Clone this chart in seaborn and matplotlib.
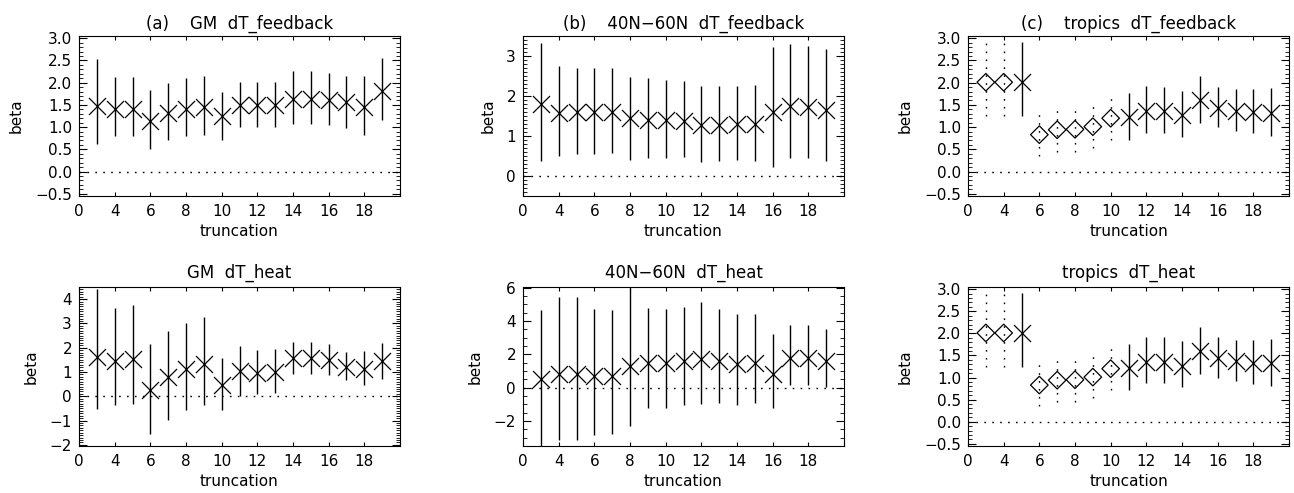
import matplotlib
matplotlib.use("Agg")
import matplotlib.pyplot as plt
import seaborn as sns
import pandas as pd
from matplotlib.ticker import MultipleLocator, FixedLocator, FixedFormatter, FuncFormatter

# ---------------- data ----------------
truncation = [3, 4, 5, 6, 7, 8, 9, 10, 11, 12, 13, 14, 15, 16, 17, 18, 19]
xtick_pos = [2, 4, 6, 8, 10, 12, 14, 16, 18, 20]
xtick_labels = ["0", "4", "6", "8", "10", "12", "14", "16", "18", ""]

gm_fb_beta = [1.48, 1.40, 1.41, 1.14, 1.31, 1.41, 1.45, 1.24, 1.50, 1.49, 1.49, 1.64, 1.64, 1.60, 1.56, 1.46, 1.82]
gm_fb_hi = [2.54, 2.12, 2.13, 1.83, 1.99, 2.10, 2.15, 1.78, 2.02, 2.02, 2.02, 2.26, 2.26, 2.21, 2.15, 2.15, 2.56]
gm_fb_lo = [0.63, 0.79, 0.79, 0.50, 0.70, 0.80, 0.83, 0.72, 1.01, 1.01, 1.01, 1.08, 1.08, 1.04, 0.99, 0.82, 1.16]

mid_fb_beta = [1.80, 1.58, 1.59, 1.61, 1.61, 1.44, 1.41, 1.40, 1.37, 1.27, 1.27, 1.29, 1.29, 1.61, 1.75, 1.72, 1.66]
mid_fb_hi = [3.32, 2.75, 2.70, 2.70, 2.69, 2.47, 2.44, 2.40, 2.37, 2.24, 2.25, 2.25, 2.27, 3.23, 3.31, 3.25, 3.17]
mid_fb_lo = [0.38, 0.49, 0.54, 0.56, 0.58, 0.41, 0.44, 0.44, 0.48, 0.34, 0.37, 0.39, 0.38, 0.22, 0.45, 0.45, 0.38]

trop_beta = [2.01, 2.01, 2.01, 0.83, 0.94, 0.95, 1.01, 1.20, 1.22, 1.36, 1.36, 1.27, 1.60, 1.44, 1.37, 1.34, 1.32]
trop_hi = [2.92, 2.92, 2.92, 1.35, 1.45, 1.46, 1.55, 1.73, 1.77, 1.92, 1.91, 1.82, 2.14, 1.91, 1.86, 1.85, 1.87]
trop_lo = [1.25, 1.25, 1.25, 0.35, 0.45, 0.45, 0.53, 0.71, 0.71, 0.87, 0.87, 0.78, 1.09, 1.00, 0.92, 0.86, 0.80]
trop_solid = [0, 0, 1, 0, 0, 0, 0, 0, 1, 1, 1, 1, 1, 1, 1, 1, 1]

gm_ht_beta = [1.60, 1.47, 1.53, 0.25, 0.78, 1.12, 1.31, 0.48, 1.03, 0.97, 0.98, 1.57, 1.57, 1.51, 1.22, 1.13, 1.46]
gm_ht_hi = [4.42, 3.65, 3.75, 2.14, 2.70, 3.01, 3.25, 1.57, 2.08, 1.90, 1.93, 2.23, 2.23, 2.16, 1.82, 1.85, 2.21]
gm_ht_lo = [-0.52, -0.37, -0.32, -1.57, -0.97, -0.57, -0.38, -0.57, 0.00, 0.08, 0.12, 0.91, 0.93, 0.88, 0.65, 0.48, 0.73]

mid_ht_beta = [0.55, 0.80, 0.80, 0.70, 0.70, 1.30, 1.50, 1.50, 1.60, 1.70, 1.60, 1.40, 1.50, 0.85, 1.80, 1.80, 1.60]
mid_ht_hi = [4.65, 5.45, 5.45, 4.75, 4.65, 6.00, 4.80, 4.75, 4.85, 5.15, 4.75, 4.45, 4.40, 3.25, 3.75, 3.75, 3.55]
mid_ht_lo = [-3.60, -3.15, -3.15, -2.85, -2.80, -2.30, -1.20, -1.20, -1.05, -1.00, -0.90, -1.05, -0.90, -1.20, 0.15, 0.15, 0.02]

all_solid = [1] * len(truncation)

titles = ["(a)    GM  dT_feedback", "(b)    40N\u221260N  dT_feedback", "(c)    tropics  dT_feedback",
          "GM  dT_heat", "40N\u221260N  dT_heat", "tropics  dT_heat"]

# ---------------- style ----------------
sns.set_theme(style="ticks")
plt.rcParams["font.family"] = ["DejaVu Sans"]
for k in ["text.color", "axes.labelcolor", "xtick.color", "ytick.color", "axes.edgecolor"]:
    plt.rcParams[k] = "black"
plt.rcParams["axes.linewidth"] = 0.8

fig = plt.figure(figsize=(12.94, 4.93), dpi=100)

W = 321 / 1294
col_left = [79 / 1294, 523 / 1294, 968 / 1294]
row_geom = [(1 - 196 / 493, 160 / 493), (1 - 446 / 493, 159 / 493)]

panels = [
    (gm_fb_beta, gm_fb_hi, gm_fb_lo, all_solid, (-0.55, 3.05), 0.5, 0.1, 1),
    (mid_fb_beta, mid_fb_hi, mid_fb_lo, all_solid, (-0.5, 3.5), 1.0, 0.1, 0),
    (trop_beta, trop_hi, trop_lo, trop_solid, (-0.55, 3.05), 0.5, 0.1, 1),
    (gm_ht_beta, gm_ht_hi, gm_ht_lo, all_solid, (-2.05, 4.5), 1.0, 0.1, 0),
    (mid_ht_beta, mid_ht_hi, mid_ht_lo, all_solid, (-3.5, 6.05), 2.0, 0.5, 0),
    (trop_beta, trop_hi, trop_lo, trop_solid, (-0.55, 3.05), 0.5, 0.1, 1),
]


def make_fmt(nd):
    def f(v, pos):
        s = f"{v:.{nd}f}"
        if s.startswith("-") and float(s) == 0:
            s = s[1:]
        return s.replace("-", "\u2212")
    return FuncFormatter(f)


dot = (0, (1.2, 4.5))

for i, (beta, hi, lo, solid, ylim, major, minor, nd) in enumerate(panels):
    r, c = divmod(i, 3)
    bottom, height = row_geom[r]
    ax = fig.add_axes([col_left[c], bottom, W, height])
    df = pd.DataFrame({"truncation": truncation, "beta": beta, "hi": hi, "lo": lo, "solid": solid})
    s_df = df[df["solid"] == 1]
    d_df = df[df["solid"] == 0]

    ax.axhline(0, color="black", lw=1.0, ls=dot)
    if len(s_df):
        ax.vlines(s_df["truncation"], s_df["lo"], s_df["hi"], color="black", lw=1.0)
        sns.scatterplot(data=s_df, x="truncation", y="beta", marker="x", s=150,
                        color="black", linewidth=0.9, ax=ax, zorder=3)
    if len(d_df):
        ax.vlines(d_df["truncation"], d_df["lo"], d_df["hi"], color="black", lw=1.0, linestyles=[dot])
        sns.scatterplot(data=d_df, x="truncation", y="beta", marker="D", s=80,
                        color="black", facecolor="none", edgecolor="black", linewidth=0.9,
                        ax=ax, zorder=3)

    ax.set_xlim(2, 20)
    ax.set_ylim(*ylim)
    ax.xaxis.set_major_locator(FixedLocator(xtick_pos))
    ax.xaxis.set_major_formatter(FixedFormatter(xtick_labels))
    ax.yaxis.set_major_locator(MultipleLocator(major))
    ax.yaxis.set_minor_locator(MultipleLocator(minor))
    ax.yaxis.set_major_formatter(make_fmt(nd))
    ax.tick_params(axis="x", which="major", direction="in", top=True, bottom=True,
                   length=3, width=0.8, labelsize=11, pad=6, colors="black")
    ax.tick_params(axis="y", which="major", direction="in", left=True, right=True,
                   length=6, width=0.8, labelsize=11, pad=5, colors="black")
    ax.tick_params(axis="y", which="minor", direction="in", left=True, right=True,
                   length=3, width=0.6, colors="black")
    for sp in ax.spines.values():
        sp.set_visible(True)
        sp.set_linewidth(0.8)
        sp.set_color("black")
    ax.set_xlabel("truncation", fontsize=11, labelpad=3, color="black")
    ax.set_ylabel("beta", fontsize=11, labelpad=8, color="black")
    ax.set_title(titles[i], fontsize=12, pad=5 if r == 0 else 7, color="black")
    ax.grid(False)

fig.savefig("out.png", dpi=100)
